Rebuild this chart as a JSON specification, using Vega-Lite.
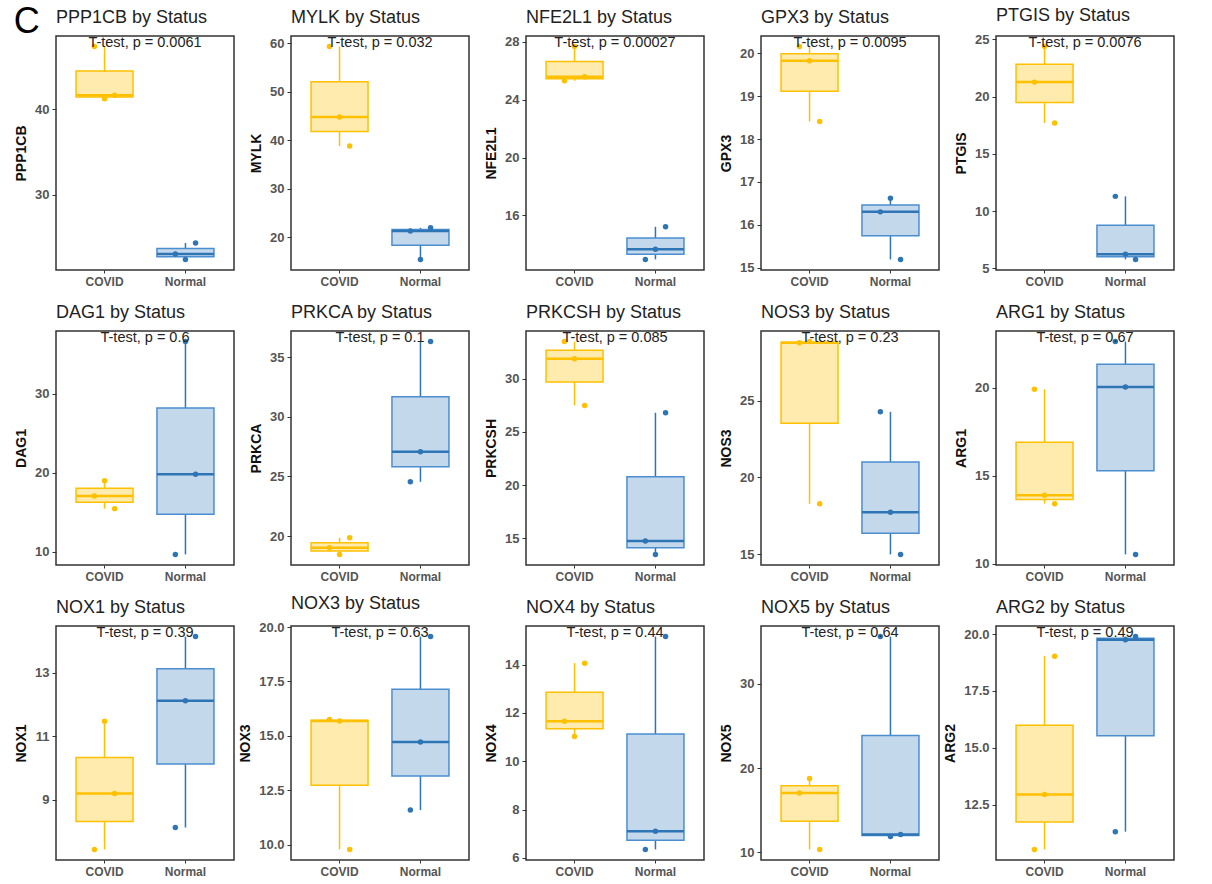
{
  "$schema": "https://vega.github.io/schema/vega-lite/v6.json",
  "background": "white",
  "padding": {"left": 13, "top": 3, "right": 5, "bottom": 0},
  "title": {"text": "C", "anchor": "start", "frame": "bounds", "fontSize": 36, "font": "Liberation Sans", "fontWeight": "normal", "offset": -34, "color": "#000"},
  "columns": 5,
  "spacing": {"row": 61, "column": 57},
  "bounds": "flush",
  "config": {
    "font": "Liberation Sans",
    "view": {"stroke": "#333", "strokeWidth": 1.5},
    "title": {"fontSize": 18, "fontWeight": "normal", "anchor": "start", "frame": "group", "color": "#222", "offset": 8, "font": "Liberation Sans"},
    "axis": {"grid": false, "domain": false, "tickColor": "#333", "tickSize": 4, "tickWidth": 1, "labelColor": "#555", "labelFontWeight": "bold", "titleFontWeight": "bold", "titleColor": "#111", "titleFontSize": 14},
    "axisY": {"labelFontSize": 13, "titlePadding": 6, "labelPadding": 3},
    "axisX": {"labelFontSize": 12, "labelAngle": 0, "labelPadding": 3, "tickSize": 3, "title": null}
  },
  "datasets": {
    "expr": [
      {"gene": "PPP1CB", "status": "COVID", "rep": 2, "value": 41.25},
      {"gene": "PPP1CB", "status": "COVID", "rep": 3, "value": 41.65},
      {"gene": "PPP1CB", "status": "COVID", "rep": 1, "value": 47.35},
      {"gene": "PPP1CB", "status": "Normal", "rep": 2, "value": 22.42},
      {"gene": "PPP1CB", "status": "Normal", "rep": 1, "value": 23.06},
      {"gene": "PPP1CB", "status": "Normal", "rep": 3, "value": 24.34},
      {"gene": "MYLK", "status": "COVID", "rep": 3, "value": 38.8},
      {"gene": "MYLK", "status": "COVID", "rep": 2, "value": 44.8},
      {"gene": "MYLK", "status": "COVID", "rep": 1, "value": 59.3},
      {"gene": "MYLK", "status": "Normal", "rep": 2, "value": 15.42},
      {"gene": "MYLK", "status": "Normal", "rep": 1, "value": 21.26},
      {"gene": "MYLK", "status": "Normal", "rep": 3, "value": 21.94},
      {"gene": "NFE2L1", "status": "COVID", "rep": 1, "value": 25.32},
      {"gene": "NFE2L1", "status": "COVID", "rep": 3, "value": 25.6},
      {"gene": "NFE2L1", "status": "COVID", "rep": 2, "value": 27.68},
      {"gene": "NFE2L1", "status": "Normal", "rep": 1, "value": 12.95},
      {"gene": "NFE2L1", "status": "Normal", "rep": 2, "value": 13.65},
      {"gene": "NFE2L1", "status": "Normal", "rep": 3, "value": 15.21},
      {"gene": "GPX3", "status": "COVID", "rep": 3, "value": 18.41},
      {"gene": "GPX3", "status": "COVID", "rep": 2, "value": 19.83},
      {"gene": "GPX3", "status": "COVID", "rep": 1, "value": 20.16},
      {"gene": "GPX3", "status": "Normal", "rep": 3, "value": 15.19},
      {"gene": "GPX3", "status": "Normal", "rep": 1, "value": 16.3},
      {"gene": "GPX3", "status": "Normal", "rep": 2, "value": 16.62},
      {"gene": "PTGIS", "status": "COVID", "rep": 3, "value": 17.7},
      {"gene": "PTGIS", "status": "COVID", "rep": 1, "value": 21.26},
      {"gene": "PTGIS", "status": "COVID", "rep": 2, "value": 24.36},
      {"gene": "PTGIS", "status": "Normal", "rep": 3, "value": 5.79},
      {"gene": "PTGIS", "status": "Normal", "rep": 2, "value": 6.25},
      {"gene": "PTGIS", "status": "Normal", "rep": 1, "value": 11.29},
      {"gene": "DAG1", "status": "COVID", "rep": 3, "value": 15.44},
      {"gene": "DAG1", "status": "COVID", "rep": 1, "value": 17.04},
      {"gene": "DAG1", "status": "COVID", "rep": 2, "value": 18.98},
      {"gene": "DAG1", "status": "Normal", "rep": 1, "value": 9.65},
      {"gene": "DAG1", "status": "Normal", "rep": 3, "value": 19.79},
      {"gene": "DAG1", "status": "Normal", "rep": 2, "value": 36.57},
      {"gene": "PRKCA", "status": "COVID", "rep": 2, "value": 18.46},
      {"gene": "PRKCA", "status": "COVID", "rep": 1, "value": 19.02},
      {"gene": "PRKCA", "status": "COVID", "rep": 3, "value": 19.86},
      {"gene": "PRKCA", "status": "Normal", "rep": 1, "value": 24.55},
      {"gene": "PRKCA", "status": "Normal", "rep": 2, "value": 27.07},
      {"gene": "PRKCA", "status": "Normal", "rep": 3, "value": 36.31},
      {"gene": "PRKCSH", "status": "COVID", "rep": 3, "value": 27.5},
      {"gene": "PRKCSH", "status": "COVID", "rep": 2, "value": 31.88},
      {"gene": "PRKCSH", "status": "COVID", "rep": 1, "value": 33.5},
      {"gene": "PRKCSH", "status": "Normal", "rep": 2, "value": 13.49},
      {"gene": "PRKCSH", "status": "Normal", "rep": 1, "value": 14.75},
      {"gene": "PRKCSH", "status": "Normal", "rep": 3, "value": 26.81},
      {"gene": "NOS3", "status": "COVID", "rep": 3, "value": 18.28},
      {"gene": "NOS3", "status": "COVID", "rep": 1, "value": 28.76},
      {"gene": "NOS3", "status": "COVID", "rep": 2, "value": 28.84},
      {"gene": "NOS3", "status": "Normal", "rep": 3, "value": 14.99},
      {"gene": "NOS3", "status": "Normal", "rep": 2, "value": 17.73},
      {"gene": "NOS3", "status": "Normal", "rep": 1, "value": 24.27},
      {"gene": "ARG1", "status": "COVID", "rep": 3, "value": 13.42},
      {"gene": "ARG1", "status": "COVID", "rep": 2, "value": 13.9},
      {"gene": "ARG1", "status": "COVID", "rep": 1, "value": 19.92},
      {"gene": "ARG1", "status": "Normal", "rep": 3, "value": 10.54},
      {"gene": "ARG1", "status": "Normal", "rep": 2, "value": 20.04},
      {"gene": "ARG1", "status": "Normal", "rep": 1, "value": 22.62},
      {"gene": "NOX1", "status": "COVID", "rep": 1, "value": 7.43},
      {"gene": "NOX1", "status": "COVID", "rep": 3, "value": 9.19},
      {"gene": "NOX1", "status": "COVID", "rep": 2, "value": 11.47},
      {"gene": "NOX1", "status": "Normal", "rep": 1, "value": 8.12},
      {"gene": "NOX1", "status": "Normal", "rep": 2, "value": 12.12},
      {"gene": "NOX1", "status": "Normal", "rep": 3, "value": 14.14},
      {"gene": "NOX3", "status": "COVID", "rep": 3, "value": 9.79},
      {"gene": "NOX3", "status": "COVID", "rep": 2, "value": 15.69},
      {"gene": "NOX3", "status": "COVID", "rep": 1, "value": 15.75},
      {"gene": "NOX3", "status": "Normal", "rep": 1, "value": 11.6},
      {"gene": "NOX3", "status": "Normal", "rep": 2, "value": 14.72},
      {"gene": "NOX3", "status": "Normal", "rep": 3, "value": 19.56},
      {"gene": "NOX4", "status": "COVID", "rep": 2, "value": 11.02},
      {"gene": "NOX4", "status": "COVID", "rep": 1, "value": 11.66},
      {"gene": "NOX4", "status": "COVID", "rep": 3, "value": 14.06},
      {"gene": "NOX4", "status": "Normal", "rep": 1, "value": 6.35},
      {"gene": "NOX4", "status": "Normal", "rep": 2, "value": 7.1},
      {"gene": "NOX4", "status": "Normal", "rep": 3, "value": 15.16},
      {"gene": "NOX5", "status": "COVID", "rep": 3, "value": 10.34},
      {"gene": "NOX5", "status": "COVID", "rep": 1, "value": 17.04},
      {"gene": "NOX5", "status": "COVID", "rep": 2, "value": 18.78},
      {"gene": "NOX5", "status": "Normal", "rep": 2, "value": 11.87},
      {"gene": "NOX5", "status": "Normal", "rep": 3, "value": 12.11},
      {"gene": "NOX5", "status": "Normal", "rep": 1, "value": 35.63},
      {"gene": "ARG2", "status": "COVID", "rep": 1, "value": 10.53},
      {"gene": "ARG2", "status": "COVID", "rep": 2, "value": 12.95},
      {"gene": "ARG2", "status": "COVID", "rep": 3, "value": 19.03},
      {"gene": "ARG2", "status": "Normal", "rep": 1, "value": 11.31},
      {"gene": "ARG2", "status": "Normal", "rep": 2, "value": 19.75},
      {"gene": "ARG2", "status": "Normal", "rep": 3, "value": 19.89}
    ]
  },
  "concat": [
    {"width": 178, "height": 234, "title": "PPP1CB by Status", "data": {"name": "expr"}, "transform": [{"filter": "datum.gene === 'PPP1CB'"}],
     "layer": [
      {"mark": {"type": "rule", "strokeWidth": 1.5}, "encoding": {"x": {"field": "status", "type": "nominal", "title": null, "scale": {"type": "band", "paddingInner": 0, "paddingOuter": 0.1}}, "y": {"aggregate": "min", "field": "value", "type": "quantitative", "title": "PPP1CB", "scale": {"zero": false, "nice": false, "padding": 10.6}, "axis": {"values": [30, 40], "format": "d"}}, "y2": {"aggregate": "max", "field": "value"}, "color": {"field": "status", "type": "nominal", "scale": {"domain": ["COVID", "Normal"], "range": ["#FFC000", "#2E75B6"]}, "legend": null}}},
      {"mark": {"type": "bar", "size": 57, "strokeWidth": 1.5}, "encoding": {"x": {"field": "status", "type": "nominal"}, "y": {"aggregate": "q1", "field": "value", "type": "quantitative", "title": "PPP1CB"}, "y2": {"aggregate": "q3", "field": "value"}, "fill": {"field": "status", "type": "nominal", "scale": {"domain": ["COVID", "Normal"], "range": ["#FFEBAE", "#C4D8EC"]}, "legend": null}, "stroke": {"field": "status", "type": "nominal", "scale": {"domain": ["COVID", "Normal"], "range": ["#FFC000", "#4A8ED0"]}, "legend": null}}},
      {"mark": {"type": "tick", "size": 57, "thickness": 2.5}, "encoding": {"x": {"field": "status", "type": "nominal"}, "y": {"aggregate": "median", "field": "value", "type": "quantitative", "title": "PPP1CB"}, "color": {"field": "status", "type": "nominal", "legend": null}}},
      {"mark": {"type": "circle", "size": 30, "opacity": 1}, "encoding": {"x": {"field": "status", "type": "nominal"}, "y": {"field": "value", "type": "quantitative", "title": "PPP1CB"}, "xOffset": {"field": "rep", "type": "nominal", "scale": {"type": "band", "domain": [-1, 0, 1, 2, 3, 4, 5], "paddingInner": 0, "paddingOuter": 0.5}}, "color": {"field": "status", "type": "nominal", "legend": null}}},
      {"mark": {"type": "text", "fontSize": 14.5, "baseline": "alphabetic", "align": "center", "color": "#222"}, "encoding": {"x": {"datum": "COVID", "bandPosition": 1}, "y": {"aggregate": "max", "field": "value", "type": "quantitative", "title": "PPP1CB"}, "text": {"value": "T-test, p = 0.0061"}}}
     ]},
    {"width": 178, "height": 234, "title": "MYLK by Status", "data": {"name": "expr"}, "transform": [{"filter": "datum.gene === 'MYLK'"}],
     "layer": [
      {"mark": {"type": "rule", "strokeWidth": 1.5}, "encoding": {"x": {"field": "status", "type": "nominal", "title": null, "scale": {"type": "band", "paddingInner": 0, "paddingOuter": 0.1}}, "y": {"aggregate": "min", "field": "value", "type": "quantitative", "title": "MYLK", "scale": {"zero": false, "nice": false, "padding": 10.6}, "axis": {"values": [20, 30, 40, 50, 60], "format": "d"}}, "y2": {"aggregate": "max", "field": "value"}, "color": {"field": "status", "type": "nominal", "scale": {"domain": ["COVID", "Normal"], "range": ["#FFC000", "#2E75B6"]}, "legend": null}}},
      {"mark": {"type": "bar", "size": 57, "strokeWidth": 1.5}, "encoding": {"x": {"field": "status", "type": "nominal"}, "y": {"aggregate": "q1", "field": "value", "type": "quantitative", "title": "MYLK"}, "y2": {"aggregate": "q3", "field": "value"}, "fill": {"field": "status", "type": "nominal", "scale": {"domain": ["COVID", "Normal"], "range": ["#FFEBAE", "#C4D8EC"]}, "legend": null}, "stroke": {"field": "status", "type": "nominal", "scale": {"domain": ["COVID", "Normal"], "range": ["#FFC000", "#4A8ED0"]}, "legend": null}}},
      {"mark": {"type": "tick", "size": 57, "thickness": 2.5}, "encoding": {"x": {"field": "status", "type": "nominal"}, "y": {"aggregate": "median", "field": "value", "type": "quantitative", "title": "MYLK"}, "color": {"field": "status", "type": "nominal", "legend": null}}},
      {"mark": {"type": "circle", "size": 30, "opacity": 1}, "encoding": {"x": {"field": "status", "type": "nominal"}, "y": {"field": "value", "type": "quantitative", "title": "MYLK"}, "xOffset": {"field": "rep", "type": "nominal", "scale": {"type": "band", "domain": [-1, 0, 1, 2, 3, 4, 5], "paddingInner": 0, "paddingOuter": 0.5}}, "color": {"field": "status", "type": "nominal", "legend": null}}},
      {"mark": {"type": "text", "fontSize": 14.5, "baseline": "alphabetic", "align": "center", "color": "#222"}, "encoding": {"x": {"datum": "COVID", "bandPosition": 1}, "y": {"aggregate": "max", "field": "value", "type": "quantitative", "title": "MYLK"}, "text": {"value": "T-test, p = 0.032"}}}
     ]},
    {"width": 178, "height": 234, "title": "NFE2L1 by Status", "data": {"name": "expr"}, "transform": [{"filter": "datum.gene === 'NFE2L1'"}],
     "layer": [
      {"mark": {"type": "rule", "strokeWidth": 1.5}, "encoding": {"x": {"field": "status", "type": "nominal", "title": null, "scale": {"type": "band", "paddingInner": 0, "paddingOuter": 0.1}}, "y": {"aggregate": "min", "field": "value", "type": "quantitative", "title": "NFE2L1", "scale": {"zero": false, "nice": false, "padding": 10.6}, "axis": {"values": [16, 20, 24, 28], "format": "d"}}, "y2": {"aggregate": "max", "field": "value"}, "color": {"field": "status", "type": "nominal", "scale": {"domain": ["COVID", "Normal"], "range": ["#FFC000", "#2E75B6"]}, "legend": null}}},
      {"mark": {"type": "bar", "size": 57, "strokeWidth": 1.5}, "encoding": {"x": {"field": "status", "type": "nominal"}, "y": {"aggregate": "q1", "field": "value", "type": "quantitative", "title": "NFE2L1"}, "y2": {"aggregate": "q3", "field": "value"}, "fill": {"field": "status", "type": "nominal", "scale": {"domain": ["COVID", "Normal"], "range": ["#FFEBAE", "#C4D8EC"]}, "legend": null}, "stroke": {"field": "status", "type": "nominal", "scale": {"domain": ["COVID", "Normal"], "range": ["#FFC000", "#4A8ED0"]}, "legend": null}}},
      {"mark": {"type": "tick", "size": 57, "thickness": 2.5}, "encoding": {"x": {"field": "status", "type": "nominal"}, "y": {"aggregate": "median", "field": "value", "type": "quantitative", "title": "NFE2L1"}, "color": {"field": "status", "type": "nominal", "legend": null}}},
      {"mark": {"type": "circle", "size": 30, "opacity": 1}, "encoding": {"x": {"field": "status", "type": "nominal"}, "y": {"field": "value", "type": "quantitative", "title": "NFE2L1"}, "xOffset": {"field": "rep", "type": "nominal", "scale": {"type": "band", "domain": [-1, 0, 1, 2, 3, 4, 5], "paddingInner": 0, "paddingOuter": 0.5}}, "color": {"field": "status", "type": "nominal", "legend": null}}},
      {"mark": {"type": "text", "fontSize": 14.5, "baseline": "alphabetic", "align": "center", "color": "#222"}, "encoding": {"x": {"datum": "COVID", "bandPosition": 1}, "y": {"aggregate": "max", "field": "value", "type": "quantitative", "title": "NFE2L1"}, "text": {"value": "T-test, p = 0.00027"}}}
     ]},
    {"width": 178, "height": 234, "title": "GPX3 by Status", "data": {"name": "expr"}, "transform": [{"filter": "datum.gene === 'GPX3'"}],
     "layer": [
      {"mark": {"type": "rule", "strokeWidth": 1.5}, "encoding": {"x": {"field": "status", "type": "nominal", "title": null, "scale": {"type": "band", "paddingInner": 0, "paddingOuter": 0.1}}, "y": {"aggregate": "min", "field": "value", "type": "quantitative", "title": "GPX3", "scale": {"zero": false, "nice": false, "padding": 10.6}, "axis": {"values": [15, 16, 17, 18, 19, 20], "format": "d"}}, "y2": {"aggregate": "max", "field": "value"}, "color": {"field": "status", "type": "nominal", "scale": {"domain": ["COVID", "Normal"], "range": ["#FFC000", "#2E75B6"]}, "legend": null}}},
      {"mark": {"type": "bar", "size": 57, "strokeWidth": 1.5}, "encoding": {"x": {"field": "status", "type": "nominal"}, "y": {"aggregate": "q1", "field": "value", "type": "quantitative", "title": "GPX3"}, "y2": {"aggregate": "q3", "field": "value"}, "fill": {"field": "status", "type": "nominal", "scale": {"domain": ["COVID", "Normal"], "range": ["#FFEBAE", "#C4D8EC"]}, "legend": null}, "stroke": {"field": "status", "type": "nominal", "scale": {"domain": ["COVID", "Normal"], "range": ["#FFC000", "#4A8ED0"]}, "legend": null}}},
      {"mark": {"type": "tick", "size": 57, "thickness": 2.5}, "encoding": {"x": {"field": "status", "type": "nominal"}, "y": {"aggregate": "median", "field": "value", "type": "quantitative", "title": "GPX3"}, "color": {"field": "status", "type": "nominal", "legend": null}}},
      {"mark": {"type": "circle", "size": 30, "opacity": 1}, "encoding": {"x": {"field": "status", "type": "nominal"}, "y": {"field": "value", "type": "quantitative", "title": "GPX3"}, "xOffset": {"field": "rep", "type": "nominal", "scale": {"type": "band", "domain": [-1, 0, 1, 2, 3, 4, 5], "paddingInner": 0, "paddingOuter": 0.5}}, "color": {"field": "status", "type": "nominal", "legend": null}}},
      {"mark": {"type": "text", "fontSize": 14.5, "baseline": "alphabetic", "align": "center", "color": "#222"}, "encoding": {"x": {"datum": "COVID", "bandPosition": 1}, "y": {"aggregate": "max", "field": "value", "type": "quantitative", "title": "GPX3"}, "text": {"value": "T-test, p = 0.0095"}}}
     ]},
    {"width": 178, "height": 234, "title": "PTGIS by Status", "data": {"name": "expr"}, "transform": [{"filter": "datum.gene === 'PTGIS'"}],
     "layer": [
      {"mark": {"type": "rule", "strokeWidth": 1.5}, "encoding": {"x": {"field": "status", "type": "nominal", "title": null, "scale": {"type": "band", "paddingInner": 0, "paddingOuter": 0.1}}, "y": {"aggregate": "min", "field": "value", "type": "quantitative", "title": "PTGIS", "scale": {"zero": false, "nice": false, "padding": 10.6}, "axis": {"values": [5, 10, 15, 20, 25], "format": "d"}}, "y2": {"aggregate": "max", "field": "value"}, "color": {"field": "status", "type": "nominal", "scale": {"domain": ["COVID", "Normal"], "range": ["#FFC000", "#2E75B6"]}, "legend": null}}},
      {"mark": {"type": "bar", "size": 57, "strokeWidth": 1.5}, "encoding": {"x": {"field": "status", "type": "nominal"}, "y": {"aggregate": "q1", "field": "value", "type": "quantitative", "title": "PTGIS"}, "y2": {"aggregate": "q3", "field": "value"}, "fill": {"field": "status", "type": "nominal", "scale": {"domain": ["COVID", "Normal"], "range": ["#FFEBAE", "#C4D8EC"]}, "legend": null}, "stroke": {"field": "status", "type": "nominal", "scale": {"domain": ["COVID", "Normal"], "range": ["#FFC000", "#4A8ED0"]}, "legend": null}}},
      {"mark": {"type": "tick", "size": 57, "thickness": 2.5}, "encoding": {"x": {"field": "status", "type": "nominal"}, "y": {"aggregate": "median", "field": "value", "type": "quantitative", "title": "PTGIS"}, "color": {"field": "status", "type": "nominal", "legend": null}}},
      {"mark": {"type": "circle", "size": 30, "opacity": 1}, "encoding": {"x": {"field": "status", "type": "nominal"}, "y": {"field": "value", "type": "quantitative", "title": "PTGIS"}, "xOffset": {"field": "rep", "type": "nominal", "scale": {"type": "band", "domain": [-1, 0, 1, 2, 3, 4, 5], "paddingInner": 0, "paddingOuter": 0.5}}, "color": {"field": "status", "type": "nominal", "legend": null}}},
      {"mark": {"type": "text", "fontSize": 14.5, "baseline": "alphabetic", "align": "center", "color": "#222"}, "encoding": {"x": {"datum": "COVID", "bandPosition": 1}, "y": {"aggregate": "max", "field": "value", "type": "quantitative", "title": "PTGIS"}, "text": {"value": "T-test, p = 0.0076"}}}
     ]},
    {"width": 178, "height": 234, "title": "DAG1 by Status", "data": {"name": "expr"}, "transform": [{"filter": "datum.gene === 'DAG1'"}],
     "layer": [
      {"mark": {"type": "rule", "strokeWidth": 1.5}, "encoding": {"x": {"field": "status", "type": "nominal", "title": null, "scale": {"type": "band", "paddingInner": 0, "paddingOuter": 0.1}}, "y": {"aggregate": "min", "field": "value", "type": "quantitative", "title": "DAG1", "scale": {"zero": false, "nice": false, "padding": 10.6}, "axis": {"values": [10, 20, 30], "format": "d"}}, "y2": {"aggregate": "max", "field": "value"}, "color": {"field": "status", "type": "nominal", "scale": {"domain": ["COVID", "Normal"], "range": ["#FFC000", "#2E75B6"]}, "legend": null}}},
      {"mark": {"type": "bar", "size": 57, "strokeWidth": 1.5}, "encoding": {"x": {"field": "status", "type": "nominal"}, "y": {"aggregate": "q1", "field": "value", "type": "quantitative", "title": "DAG1"}, "y2": {"aggregate": "q3", "field": "value"}, "fill": {"field": "status", "type": "nominal", "scale": {"domain": ["COVID", "Normal"], "range": ["#FFEBAE", "#C4D8EC"]}, "legend": null}, "stroke": {"field": "status", "type": "nominal", "scale": {"domain": ["COVID", "Normal"], "range": ["#FFC000", "#4A8ED0"]}, "legend": null}}},
      {"mark": {"type": "tick", "size": 57, "thickness": 2.5}, "encoding": {"x": {"field": "status", "type": "nominal"}, "y": {"aggregate": "median", "field": "value", "type": "quantitative", "title": "DAG1"}, "color": {"field": "status", "type": "nominal", "legend": null}}},
      {"mark": {"type": "circle", "size": 30, "opacity": 1}, "encoding": {"x": {"field": "status", "type": "nominal"}, "y": {"field": "value", "type": "quantitative", "title": "DAG1"}, "xOffset": {"field": "rep", "type": "nominal", "scale": {"type": "band", "domain": [-1, 0, 1, 2, 3, 4, 5], "paddingInner": 0, "paddingOuter": 0.5}}, "color": {"field": "status", "type": "nominal", "legend": null}}},
      {"mark": {"type": "text", "fontSize": 14.5, "baseline": "alphabetic", "align": "center", "color": "#222"}, "encoding": {"x": {"datum": "COVID", "bandPosition": 1}, "y": {"aggregate": "max", "field": "value", "type": "quantitative", "title": "DAG1"}, "text": {"value": "T-test, p = 0.6"}}}
     ]},
    {"width": 178, "height": 234, "title": "PRKCA by Status", "data": {"name": "expr"}, "transform": [{"filter": "datum.gene === 'PRKCA'"}],
     "layer": [
      {"mark": {"type": "rule", "strokeWidth": 1.5}, "encoding": {"x": {"field": "status", "type": "nominal", "title": null, "scale": {"type": "band", "paddingInner": 0, "paddingOuter": 0.1}}, "y": {"aggregate": "min", "field": "value", "type": "quantitative", "title": "PRKCA", "scale": {"zero": false, "nice": false, "padding": 10.6}, "axis": {"values": [20, 25, 30, 35], "format": "d"}}, "y2": {"aggregate": "max", "field": "value"}, "color": {"field": "status", "type": "nominal", "scale": {"domain": ["COVID", "Normal"], "range": ["#FFC000", "#2E75B6"]}, "legend": null}}},
      {"mark": {"type": "bar", "size": 57, "strokeWidth": 1.5}, "encoding": {"x": {"field": "status", "type": "nominal"}, "y": {"aggregate": "q1", "field": "value", "type": "quantitative", "title": "PRKCA"}, "y2": {"aggregate": "q3", "field": "value"}, "fill": {"field": "status", "type": "nominal", "scale": {"domain": ["COVID", "Normal"], "range": ["#FFEBAE", "#C4D8EC"]}, "legend": null}, "stroke": {"field": "status", "type": "nominal", "scale": {"domain": ["COVID", "Normal"], "range": ["#FFC000", "#4A8ED0"]}, "legend": null}}},
      {"mark": {"type": "tick", "size": 57, "thickness": 2.5}, "encoding": {"x": {"field": "status", "type": "nominal"}, "y": {"aggregate": "median", "field": "value", "type": "quantitative", "title": "PRKCA"}, "color": {"field": "status", "type": "nominal", "legend": null}}},
      {"mark": {"type": "circle", "size": 30, "opacity": 1}, "encoding": {"x": {"field": "status", "type": "nominal"}, "y": {"field": "value", "type": "quantitative", "title": "PRKCA"}, "xOffset": {"field": "rep", "type": "nominal", "scale": {"type": "band", "domain": [-1, 0, 1, 2, 3, 4, 5], "paddingInner": 0, "paddingOuter": 0.5}}, "color": {"field": "status", "type": "nominal", "legend": null}}},
      {"mark": {"type": "text", "fontSize": 14.5, "baseline": "alphabetic", "align": "center", "color": "#222"}, "encoding": {"x": {"datum": "COVID", "bandPosition": 1}, "y": {"aggregate": "max", "field": "value", "type": "quantitative", "title": "PRKCA"}, "text": {"value": "T-test, p = 0.1"}}}
     ]},
    {"width": 178, "height": 234, "title": "PRKCSH by Status", "data": {"name": "expr"}, "transform": [{"filter": "datum.gene === 'PRKCSH'"}],
     "layer": [
      {"mark": {"type": "rule", "strokeWidth": 1.5}, "encoding": {"x": {"field": "status", "type": "nominal", "title": null, "scale": {"type": "band", "paddingInner": 0, "paddingOuter": 0.1}}, "y": {"aggregate": "min", "field": "value", "type": "quantitative", "title": "PRKCSH", "scale": {"zero": false, "nice": false, "padding": 10.6}, "axis": {"values": [15, 20, 25, 30], "format": "d"}}, "y2": {"aggregate": "max", "field": "value"}, "color": {"field": "status", "type": "nominal", "scale": {"domain": ["COVID", "Normal"], "range": ["#FFC000", "#2E75B6"]}, "legend": null}}},
      {"mark": {"type": "bar", "size": 57, "strokeWidth": 1.5}, "encoding": {"x": {"field": "status", "type": "nominal"}, "y": {"aggregate": "q1", "field": "value", "type": "quantitative", "title": "PRKCSH"}, "y2": {"aggregate": "q3", "field": "value"}, "fill": {"field": "status", "type": "nominal", "scale": {"domain": ["COVID", "Normal"], "range": ["#FFEBAE", "#C4D8EC"]}, "legend": null}, "stroke": {"field": "status", "type": "nominal", "scale": {"domain": ["COVID", "Normal"], "range": ["#FFC000", "#4A8ED0"]}, "legend": null}}},
      {"mark": {"type": "tick", "size": 57, "thickness": 2.5}, "encoding": {"x": {"field": "status", "type": "nominal"}, "y": {"aggregate": "median", "field": "value", "type": "quantitative", "title": "PRKCSH"}, "color": {"field": "status", "type": "nominal", "legend": null}}},
      {"mark": {"type": "circle", "size": 30, "opacity": 1}, "encoding": {"x": {"field": "status", "type": "nominal"}, "y": {"field": "value", "type": "quantitative", "title": "PRKCSH"}, "xOffset": {"field": "rep", "type": "nominal", "scale": {"type": "band", "domain": [-1, 0, 1, 2, 3, 4, 5], "paddingInner": 0, "paddingOuter": 0.5}}, "color": {"field": "status", "type": "nominal", "legend": null}}},
      {"mark": {"type": "text", "fontSize": 14.5, "baseline": "alphabetic", "align": "center", "color": "#222"}, "encoding": {"x": {"datum": "COVID", "bandPosition": 1}, "y": {"aggregate": "max", "field": "value", "type": "quantitative", "title": "PRKCSH"}, "text": {"value": "T-test, p = 0.085"}}}
     ]},
    {"width": 178, "height": 234, "title": "NOS3 by Status", "data": {"name": "expr"}, "transform": [{"filter": "datum.gene === 'NOS3'"}],
     "layer": [
      {"mark": {"type": "rule", "strokeWidth": 1.5}, "encoding": {"x": {"field": "status", "type": "nominal", "title": null, "scale": {"type": "band", "paddingInner": 0, "paddingOuter": 0.1}}, "y": {"aggregate": "min", "field": "value", "type": "quantitative", "title": "NOS3", "scale": {"zero": false, "nice": false, "padding": 10.6}, "axis": {"values": [15, 20, 25], "format": "d"}}, "y2": {"aggregate": "max", "field": "value"}, "color": {"field": "status", "type": "nominal", "scale": {"domain": ["COVID", "Normal"], "range": ["#FFC000", "#2E75B6"]}, "legend": null}}},
      {"mark": {"type": "bar", "size": 57, "strokeWidth": 1.5}, "encoding": {"x": {"field": "status", "type": "nominal"}, "y": {"aggregate": "q1", "field": "value", "type": "quantitative", "title": "NOS3"}, "y2": {"aggregate": "q3", "field": "value"}, "fill": {"field": "status", "type": "nominal", "scale": {"domain": ["COVID", "Normal"], "range": ["#FFEBAE", "#C4D8EC"]}, "legend": null}, "stroke": {"field": "status", "type": "nominal", "scale": {"domain": ["COVID", "Normal"], "range": ["#FFC000", "#4A8ED0"]}, "legend": null}}},
      {"mark": {"type": "tick", "size": 57, "thickness": 2.5}, "encoding": {"x": {"field": "status", "type": "nominal"}, "y": {"aggregate": "median", "field": "value", "type": "quantitative", "title": "NOS3"}, "color": {"field": "status", "type": "nominal", "legend": null}}},
      {"mark": {"type": "circle", "size": 30, "opacity": 1}, "encoding": {"x": {"field": "status", "type": "nominal"}, "y": {"field": "value", "type": "quantitative", "title": "NOS3"}, "xOffset": {"field": "rep", "type": "nominal", "scale": {"type": "band", "domain": [-1, 0, 1, 2, 3, 4, 5], "paddingInner": 0, "paddingOuter": 0.5}}, "color": {"field": "status", "type": "nominal", "legend": null}}},
      {"mark": {"type": "text", "fontSize": 14.5, "baseline": "alphabetic", "align": "center", "color": "#222"}, "encoding": {"x": {"datum": "COVID", "bandPosition": 1}, "y": {"aggregate": "max", "field": "value", "type": "quantitative", "title": "NOS3"}, "text": {"value": "T-test, p = 0.23"}}}
     ]},
    {"width": 178, "height": 234, "title": "ARG1 by Status", "data": {"name": "expr"}, "transform": [{"filter": "datum.gene === 'ARG1'"}],
     "layer": [
      {"mark": {"type": "rule", "strokeWidth": 1.5}, "encoding": {"x": {"field": "status", "type": "nominal", "title": null, "scale": {"type": "band", "paddingInner": 0, "paddingOuter": 0.1}}, "y": {"aggregate": "min", "field": "value", "type": "quantitative", "title": "ARG1", "scale": {"zero": false, "nice": false, "padding": 10.6}, "axis": {"values": [10, 15, 20], "format": "d"}}, "y2": {"aggregate": "max", "field": "value"}, "color": {"field": "status", "type": "nominal", "scale": {"domain": ["COVID", "Normal"], "range": ["#FFC000", "#2E75B6"]}, "legend": null}}},
      {"mark": {"type": "bar", "size": 57, "strokeWidth": 1.5}, "encoding": {"x": {"field": "status", "type": "nominal"}, "y": {"aggregate": "q1", "field": "value", "type": "quantitative", "title": "ARG1"}, "y2": {"aggregate": "q3", "field": "value"}, "fill": {"field": "status", "type": "nominal", "scale": {"domain": ["COVID", "Normal"], "range": ["#FFEBAE", "#C4D8EC"]}, "legend": null}, "stroke": {"field": "status", "type": "nominal", "scale": {"domain": ["COVID", "Normal"], "range": ["#FFC000", "#4A8ED0"]}, "legend": null}}},
      {"mark": {"type": "tick", "size": 57, "thickness": 2.5}, "encoding": {"x": {"field": "status", "type": "nominal"}, "y": {"aggregate": "median", "field": "value", "type": "quantitative", "title": "ARG1"}, "color": {"field": "status", "type": "nominal", "legend": null}}},
      {"mark": {"type": "circle", "size": 30, "opacity": 1}, "encoding": {"x": {"field": "status", "type": "nominal"}, "y": {"field": "value", "type": "quantitative", "title": "ARG1"}, "xOffset": {"field": "rep", "type": "nominal", "scale": {"type": "band", "domain": [-1, 0, 1, 2, 3, 4, 5], "paddingInner": 0, "paddingOuter": 0.5}}, "color": {"field": "status", "type": "nominal", "legend": null}}},
      {"mark": {"type": "text", "fontSize": 14.5, "baseline": "alphabetic", "align": "center", "color": "#222"}, "encoding": {"x": {"datum": "COVID", "bandPosition": 1}, "y": {"aggregate": "max", "field": "value", "type": "quantitative", "title": "ARG1"}, "text": {"value": "T-test, p = 0.67"}}}
     ]},
    {"width": 178, "height": 234, "title": "NOX1 by Status", "data": {"name": "expr"}, "transform": [{"filter": "datum.gene === 'NOX1'"}],
     "layer": [
      {"mark": {"type": "rule", "strokeWidth": 1.5}, "encoding": {"x": {"field": "status", "type": "nominal", "title": null, "scale": {"type": "band", "paddingInner": 0, "paddingOuter": 0.1}}, "y": {"aggregate": "min", "field": "value", "type": "quantitative", "title": "NOX1", "scale": {"zero": false, "nice": false, "padding": 10.6}, "axis": {"values": [9, 11, 13], "format": "d"}}, "y2": {"aggregate": "max", "field": "value"}, "color": {"field": "status", "type": "nominal", "scale": {"domain": ["COVID", "Normal"], "range": ["#FFC000", "#2E75B6"]}, "legend": null}}},
      {"mark": {"type": "bar", "size": 57, "strokeWidth": 1.5}, "encoding": {"x": {"field": "status", "type": "nominal"}, "y": {"aggregate": "q1", "field": "value", "type": "quantitative", "title": "NOX1"}, "y2": {"aggregate": "q3", "field": "value"}, "fill": {"field": "status", "type": "nominal", "scale": {"domain": ["COVID", "Normal"], "range": ["#FFEBAE", "#C4D8EC"]}, "legend": null}, "stroke": {"field": "status", "type": "nominal", "scale": {"domain": ["COVID", "Normal"], "range": ["#FFC000", "#4A8ED0"]}, "legend": null}}},
      {"mark": {"type": "tick", "size": 57, "thickness": 2.5}, "encoding": {"x": {"field": "status", "type": "nominal"}, "y": {"aggregate": "median", "field": "value", "type": "quantitative", "title": "NOX1"}, "color": {"field": "status", "type": "nominal", "legend": null}}},
      {"mark": {"type": "circle", "size": 30, "opacity": 1}, "encoding": {"x": {"field": "status", "type": "nominal"}, "y": {"field": "value", "type": "quantitative", "title": "NOX1"}, "xOffset": {"field": "rep", "type": "nominal", "scale": {"type": "band", "domain": [-1, 0, 1, 2, 3, 4, 5], "paddingInner": 0, "paddingOuter": 0.5}}, "color": {"field": "status", "type": "nominal", "legend": null}}},
      {"mark": {"type": "text", "fontSize": 14.5, "baseline": "alphabetic", "align": "center", "color": "#222"}, "encoding": {"x": {"datum": "COVID", "bandPosition": 1}, "y": {"aggregate": "max", "field": "value", "type": "quantitative", "title": "NOX1"}, "text": {"value": "T-test, p = 0.39"}}}
     ]},
    {"width": 178, "height": 234, "title": "NOX3 by Status", "data": {"name": "expr"}, "transform": [{"filter": "datum.gene === 'NOX3'"}],
     "layer": [
      {"mark": {"type": "rule", "strokeWidth": 1.5}, "encoding": {"x": {"field": "status", "type": "nominal", "title": null, "scale": {"type": "band", "paddingInner": 0, "paddingOuter": 0.1}}, "y": {"aggregate": "min", "field": "value", "type": "quantitative", "title": "NOX3", "scale": {"zero": false, "nice": false, "padding": 10.6}, "axis": {"values": [10, 12.5, 15, 17.5, 20], "format": ".1f"}}, "y2": {"aggregate": "max", "field": "value"}, "color": {"field": "status", "type": "nominal", "scale": {"domain": ["COVID", "Normal"], "range": ["#FFC000", "#2E75B6"]}, "legend": null}}},
      {"mark": {"type": "bar", "size": 57, "strokeWidth": 1.5}, "encoding": {"x": {"field": "status", "type": "nominal"}, "y": {"aggregate": "q1", "field": "value", "type": "quantitative", "title": "NOX3"}, "y2": {"aggregate": "q3", "field": "value"}, "fill": {"field": "status", "type": "nominal", "scale": {"domain": ["COVID", "Normal"], "range": ["#FFEBAE", "#C4D8EC"]}, "legend": null}, "stroke": {"field": "status", "type": "nominal", "scale": {"domain": ["COVID", "Normal"], "range": ["#FFC000", "#4A8ED0"]}, "legend": null}}},
      {"mark": {"type": "tick", "size": 57, "thickness": 2.5}, "encoding": {"x": {"field": "status", "type": "nominal"}, "y": {"aggregate": "median", "field": "value", "type": "quantitative", "title": "NOX3"}, "color": {"field": "status", "type": "nominal", "legend": null}}},
      {"mark": {"type": "circle", "size": 30, "opacity": 1}, "encoding": {"x": {"field": "status", "type": "nominal"}, "y": {"field": "value", "type": "quantitative", "title": "NOX3"}, "xOffset": {"field": "rep", "type": "nominal", "scale": {"type": "band", "domain": [-1, 0, 1, 2, 3, 4, 5], "paddingInner": 0, "paddingOuter": 0.5}}, "color": {"field": "status", "type": "nominal", "legend": null}}},
      {"mark": {"type": "text", "fontSize": 14.5, "baseline": "alphabetic", "align": "center", "color": "#222"}, "encoding": {"x": {"datum": "COVID", "bandPosition": 1}, "y": {"aggregate": "max", "field": "value", "type": "quantitative", "title": "NOX3"}, "text": {"value": "T-test, p = 0.63"}}}
     ]},
    {"width": 178, "height": 234, "title": "NOX4 by Status", "data": {"name": "expr"}, "transform": [{"filter": "datum.gene === 'NOX4'"}],
     "layer": [
      {"mark": {"type": "rule", "strokeWidth": 1.5}, "encoding": {"x": {"field": "status", "type": "nominal", "title": null, "scale": {"type": "band", "paddingInner": 0, "paddingOuter": 0.1}}, "y": {"aggregate": "min", "field": "value", "type": "quantitative", "title": "NOX4", "scale": {"zero": false, "nice": false, "padding": 10.6}, "axis": {"values": [6, 8, 10, 12, 14], "format": "d"}}, "y2": {"aggregate": "max", "field": "value"}, "color": {"field": "status", "type": "nominal", "scale": {"domain": ["COVID", "Normal"], "range": ["#FFC000", "#2E75B6"]}, "legend": null}}},
      {"mark": {"type": "bar", "size": 57, "strokeWidth": 1.5}, "encoding": {"x": {"field": "status", "type": "nominal"}, "y": {"aggregate": "q1", "field": "value", "type": "quantitative", "title": "NOX4"}, "y2": {"aggregate": "q3", "field": "value"}, "fill": {"field": "status", "type": "nominal", "scale": {"domain": ["COVID", "Normal"], "range": ["#FFEBAE", "#C4D8EC"]}, "legend": null}, "stroke": {"field": "status", "type": "nominal", "scale": {"domain": ["COVID", "Normal"], "range": ["#FFC000", "#4A8ED0"]}, "legend": null}}},
      {"mark": {"type": "tick", "size": 57, "thickness": 2.5}, "encoding": {"x": {"field": "status", "type": "nominal"}, "y": {"aggregate": "median", "field": "value", "type": "quantitative", "title": "NOX4"}, "color": {"field": "status", "type": "nominal", "legend": null}}},
      {"mark": {"type": "circle", "size": 30, "opacity": 1}, "encoding": {"x": {"field": "status", "type": "nominal"}, "y": {"field": "value", "type": "quantitative", "title": "NOX4"}, "xOffset": {"field": "rep", "type": "nominal", "scale": {"type": "band", "domain": [-1, 0, 1, 2, 3, 4, 5], "paddingInner": 0, "paddingOuter": 0.5}}, "color": {"field": "status", "type": "nominal", "legend": null}}},
      {"mark": {"type": "text", "fontSize": 14.5, "baseline": "alphabetic", "align": "center", "color": "#222"}, "encoding": {"x": {"datum": "COVID", "bandPosition": 1}, "y": {"aggregate": "max", "field": "value", "type": "quantitative", "title": "NOX4"}, "text": {"value": "T-test, p = 0.44"}}}
     ]},
    {"width": 178, "height": 234, "title": "NOX5 by Status", "data": {"name": "expr"}, "transform": [{"filter": "datum.gene === 'NOX5'"}],
     "layer": [
      {"mark": {"type": "rule", "strokeWidth": 1.5}, "encoding": {"x": {"field": "status", "type": "nominal", "title": null, "scale": {"type": "band", "paddingInner": 0, "paddingOuter": 0.1}}, "y": {"aggregate": "min", "field": "value", "type": "quantitative", "title": "NOX5", "scale": {"zero": false, "nice": false, "padding": 10.6}, "axis": {"values": [10, 20, 30], "format": "d"}}, "y2": {"aggregate": "max", "field": "value"}, "color": {"field": "status", "type": "nominal", "scale": {"domain": ["COVID", "Normal"], "range": ["#FFC000", "#2E75B6"]}, "legend": null}}},
      {"mark": {"type": "bar", "size": 57, "strokeWidth": 1.5}, "encoding": {"x": {"field": "status", "type": "nominal"}, "y": {"aggregate": "q1", "field": "value", "type": "quantitative", "title": "NOX5"}, "y2": {"aggregate": "q3", "field": "value"}, "fill": {"field": "status", "type": "nominal", "scale": {"domain": ["COVID", "Normal"], "range": ["#FFEBAE", "#C4D8EC"]}, "legend": null}, "stroke": {"field": "status", "type": "nominal", "scale": {"domain": ["COVID", "Normal"], "range": ["#FFC000", "#4A8ED0"]}, "legend": null}}},
      {"mark": {"type": "tick", "size": 57, "thickness": 2.5}, "encoding": {"x": {"field": "status", "type": "nominal"}, "y": {"aggregate": "median", "field": "value", "type": "quantitative", "title": "NOX5"}, "color": {"field": "status", "type": "nominal", "legend": null}}},
      {"mark": {"type": "circle", "size": 30, "opacity": 1}, "encoding": {"x": {"field": "status", "type": "nominal"}, "y": {"field": "value", "type": "quantitative", "title": "NOX5"}, "xOffset": {"field": "rep", "type": "nominal", "scale": {"type": "band", "domain": [-1, 0, 1, 2, 3, 4, 5], "paddingInner": 0, "paddingOuter": 0.5}}, "color": {"field": "status", "type": "nominal", "legend": null}}},
      {"mark": {"type": "text", "fontSize": 14.5, "baseline": "alphabetic", "align": "center", "color": "#222"}, "encoding": {"x": {"datum": "COVID", "bandPosition": 1}, "y": {"aggregate": "max", "field": "value", "type": "quantitative", "title": "NOX5"}, "text": {"value": "T-test, p = 0.64"}}}
     ]},
    {"width": 178, "height": 234, "title": "ARG2 by Status", "data": {"name": "expr"}, "transform": [{"filter": "datum.gene === 'ARG2'"}],
     "layer": [
      {"mark": {"type": "rule", "strokeWidth": 1.5}, "encoding": {"x": {"field": "status", "type": "nominal", "title": null, "scale": {"type": "band", "paddingInner": 0, "paddingOuter": 0.1}}, "y": {"aggregate": "min", "field": "value", "type": "quantitative", "title": "ARG2", "scale": {"zero": false, "nice": false, "padding": 10.6}, "axis": {"values": [12.5, 15, 17.5, 20], "format": ".1f"}}, "y2": {"aggregate": "max", "field": "value"}, "color": {"field": "status", "type": "nominal", "scale": {"domain": ["COVID", "Normal"], "range": ["#FFC000", "#2E75B6"]}, "legend": null}}},
      {"mark": {"type": "bar", "size": 57, "strokeWidth": 1.5}, "encoding": {"x": {"field": "status", "type": "nominal"}, "y": {"aggregate": "q1", "field": "value", "type": "quantitative", "title": "ARG2"}, "y2": {"aggregate": "q3", "field": "value"}, "fill": {"field": "status", "type": "nominal", "scale": {"domain": ["COVID", "Normal"], "range": ["#FFEBAE", "#C4D8EC"]}, "legend": null}, "stroke": {"field": "status", "type": "nominal", "scale": {"domain": ["COVID", "Normal"], "range": ["#FFC000", "#4A8ED0"]}, "legend": null}}},
      {"mark": {"type": "tick", "size": 57, "thickness": 2.5}, "encoding": {"x": {"field": "status", "type": "nominal"}, "y": {"aggregate": "median", "field": "value", "type": "quantitative", "title": "ARG2"}, "color": {"field": "status", "type": "nominal", "legend": null}}},
      {"mark": {"type": "circle", "size": 30, "opacity": 1}, "encoding": {"x": {"field": "status", "type": "nominal"}, "y": {"field": "value", "type": "quantitative", "title": "ARG2"}, "xOffset": {"field": "rep", "type": "nominal", "scale": {"type": "band", "domain": [-1, 0, 1, 2, 3, 4, 5], "paddingInner": 0, "paddingOuter": 0.5}}, "color": {"field": "status", "type": "nominal", "legend": null}}},
      {"mark": {"type": "text", "fontSize": 14.5, "baseline": "alphabetic", "align": "center", "color": "#222"}, "encoding": {"x": {"datum": "COVID", "bandPosition": 1}, "y": {"aggregate": "max", "field": "value", "type": "quantitative", "title": "ARG2"}, "text": {"value": "T-test, p = 0.49"}}}
     ]}
  ]
}
